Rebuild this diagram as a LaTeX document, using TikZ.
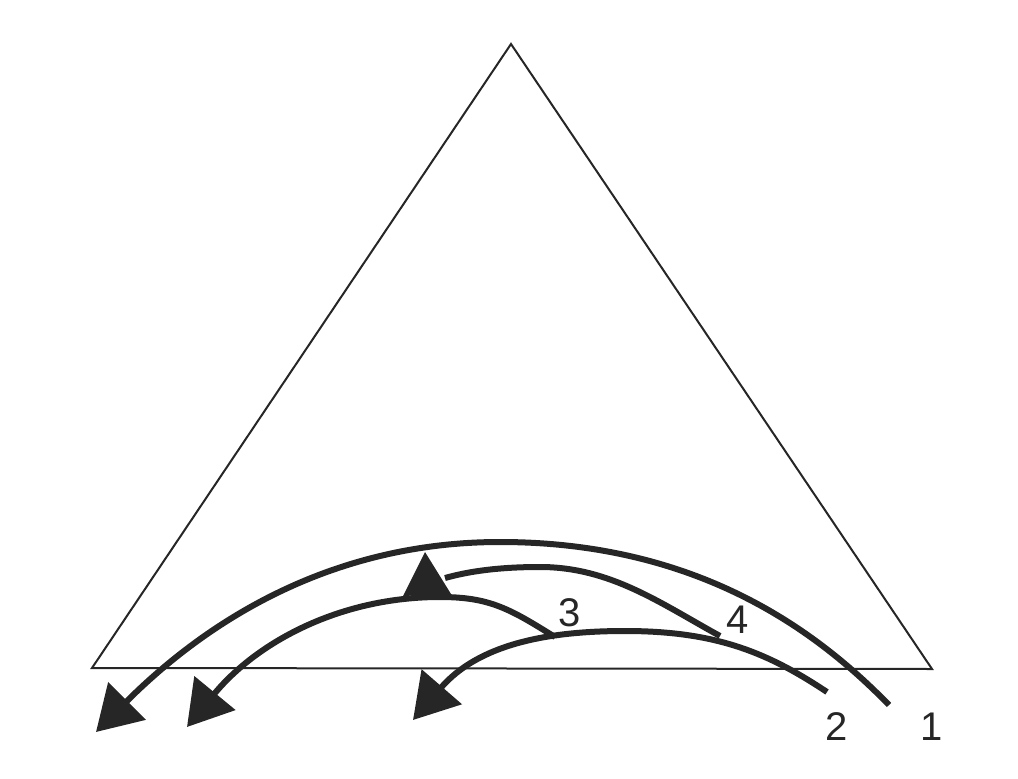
\documentclass[tikz,border=0pt]{standalone}
\usepackage{fontspec}
\setmainfont{Liberation Sans}
\usetikzlibrary{arrows.meta}
\definecolor{ink}{RGB}{38,38,38}
\tikzset{
  frame/.style={draw=ink, line width=2pt, line join=miter},
  flow/.style={draw=ink, line width=6pt, line cap=butt},
  arrowed/.style={flow, -{Triangle[length=44pt,width=52pt]}},
  numlabel/.style={inner sep=0pt, text=ink, font=\fontsize{40}{40}\selectfont}
}
\begin{document}
\begin{tikzpicture}[x=1pt,y=-1pt]
\useasboundingbox (0,0) rectangle (1018,779);
% triangle
\coordinate (apex) at (511,44);
\coordinate (bl) at (92,668);
\coordinate (br) at (932,669);
\draw[frame] (apex) -- (bl) -- (br) -- cycle;
% curve 1
\coordinate (e1) at (889,705);
\coordinate (t1) at (500,542);
\coordinate (a1) at (96,732);
\draw[arrowed] (e1) .. controls (819,633) and (700,542) .. (t1)
                    .. controls (330,542) and (206,622) .. (a1);
% curve 2
\coordinate (e2) at (827,692);
\coordinate (t2) at (625,631);
\coordinate (a2) at (413,720);
\draw[arrowed] (e2) .. controls (767,652) and (715,631) .. (t2)
                    .. controls (545,631) and (478,645) .. (a2);
% curve 3
\coordinate (j3) at (555,637);
\coordinate (t3) at (440,597);
\coordinate (a3) at (187,727);
\draw[arrowed] (j3) .. controls (510,609) and (490,597) .. (t3)
                    .. controls (340,597) and (257,642) .. (a3);
% curve 4
\coordinate (j4) at (720,636);
\coordinate (t4) at (540,567);
\coordinate (a4) at (445,578);
\draw[flow] (j4) .. controls (660,603) and (610,567) .. (t4)
                 .. controls (500,567) and (470,571) .. (a4);
% upward arrowhead of curve 4
\coordinate (h4tip) at (425,552);
\coordinate (h4l) at (403,596);
\coordinate (h4r) at (451,594);
\fill[ink] (h4tip) -- (h4l) -- (h4r) -- cycle;
% labels
\node[numlabel] (n1) at (932,727) {1};
\node[numlabel] (n2) at (837,726.5) {2};
\node[numlabel] (n3) at (570,612.5) {3};
\node[numlabel] (n4) at (738,620) {4};
\end{tikzpicture}
\end{document}
